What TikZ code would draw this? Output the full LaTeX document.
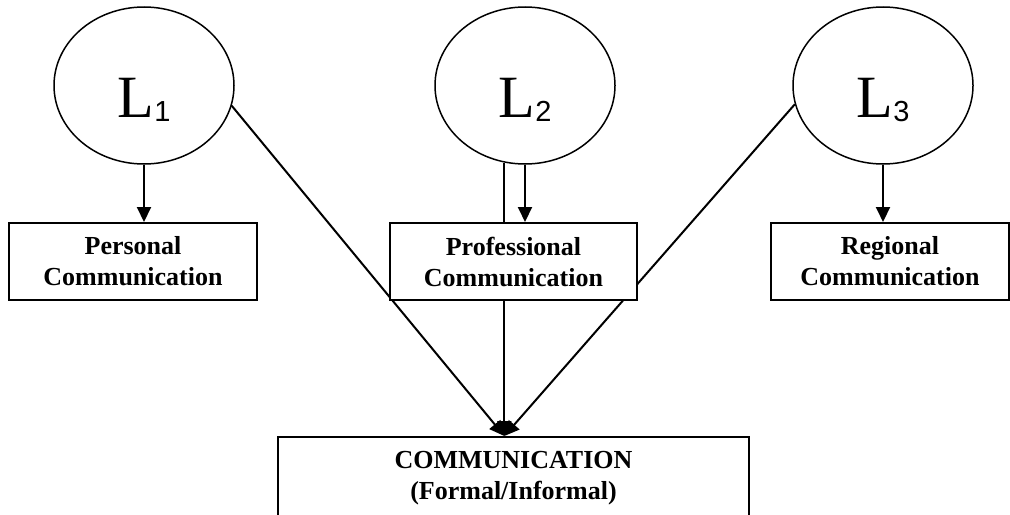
\documentclass[tikz,border=0pt]{standalone}
\usepackage{fontspec}
\setmainfont{Liberation Serif}
\setsansfont{Liberation Sans}
\usetikzlibrary{shapes,arrows.meta,backgrounds,calc}

\newcommand{\latvar}[1]{\fontsize{30}{30}\selectfont L\raisebox{-2pt}{\sffamily\fontsize{14.5}{14.5}\selectfont #1}}

\begin{document}
\begin{tikzpicture}[x=0.5pt,y=-0.5pt,
    latent/.style={ellipse,draw=black,line width=0.75pt,minimum width=90pt,minimum height=78.5pt,inner sep=0pt,text height=31.5pt,text depth=0pt},
    cell/.style={rectangle,draw=black,line width=1pt,fill=white,align=center,font=\bfseries\fontsize{13}{15.5}\selectfont,minimum height=38.5pt,inner sep=0pt},
    link/.style={line width=1pt,-{Triangle[length=7.5pt,width=7pt]}}]

    \useasboundingbox (0,0) rectangle (1010,514);
    \clip (0,0) rectangle (1010,514);

    % latent variables
    \node[latent] (L1) at (144,85.5) {\latvar{1}};
    \node[latent] (L2) at (525,85.5) {\latvar{2}};
    \node[latent] (L3) at (883,85.5) {\latvar{3}};

    % communication types
    \node[cell,minimum width=124pt] (personal) at (133,261.5) {Personal\\Communication};
    \node[cell,minimum width=123.5pt] (prof) at (513.5,261.5) {Professional\\Communication};
    \node[cell,minimum width=119pt] (regional) at (890,261.5) {Regional\\Communication};
    \node[cell,minimum width=235.5pt,minimum height=41pt] (comm) at (513.5,478) {COMMUNICATION\\(Formal/Informal)};

    \coordinate (hub) at (L2.255 |- comm.north);

    \begin{scope}[on background layer]
        \draw[link] (L1.south) -- (L1.south |- personal.north);
        \draw[link] (L2.south) -- (L2.south |- prof.north);
        \draw[link] (L3.south) -- (L3.south |- regional.north);
        \draw[link] (L2.255) -- (hub);
        \draw[link] (L1.-13) -- (hub);
        \draw[link] (L3.192) -- (hub);
    \end{scope}
\end{tikzpicture}
\end{document}
